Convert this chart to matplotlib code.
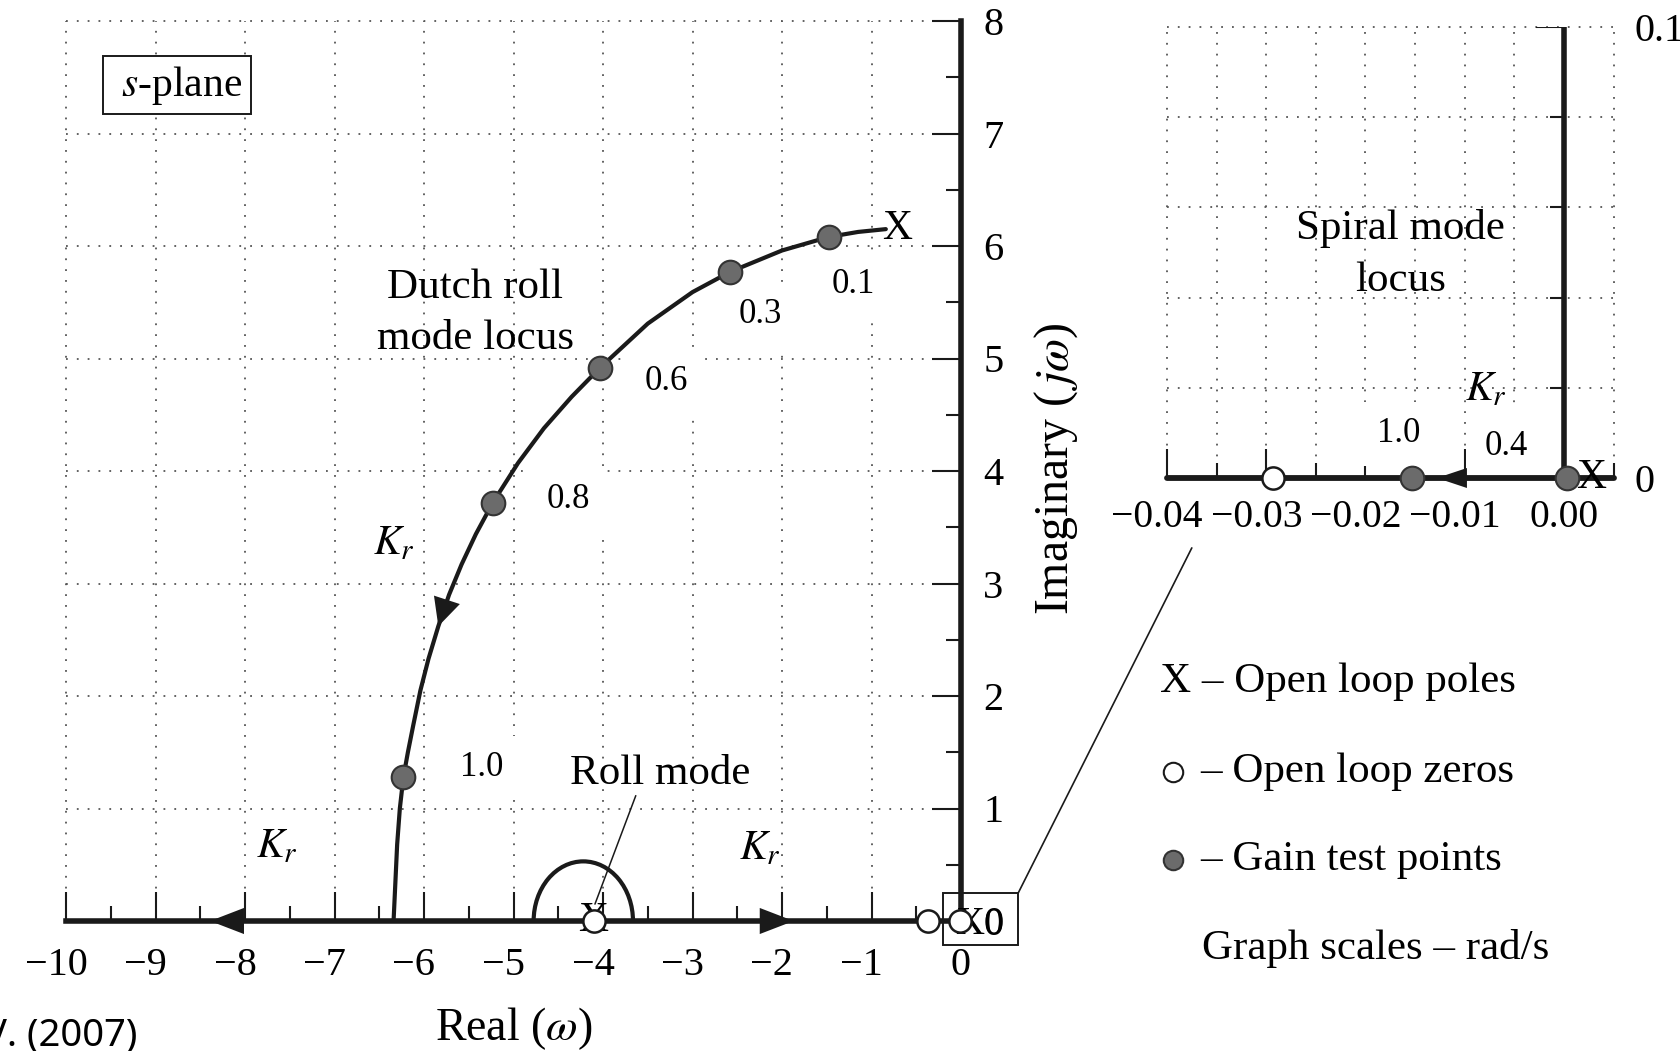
import matplotlib
matplotlib.use("Agg")
import matplotlib.pyplot as plt
from matplotlib.patches import Arc, Rectangle, ConnectionPatch
import numpy as np

plt.rcParams['font.family'] = ['Liberation Serif', 'DejaVu Serif']
plt.rcParams['mathtext.fontset'] = 'stix'

# ---- main s-plane, rad/s ----
x_ticks = [-10, -9, -8, -7, -6, -5, -4, -3, -2, -1, 0]
x_tick_labels = ['−10', '−9', '−8', '−7', '−6', '−5', '−4', '−3', '−2', '−1', '0']
x_minor = [-9.5, -8.5, -7.5, -6.5, -5.5, -4.5, -3.5, -2.5, -1.5, -0.5]
y_ticks = [0, 1, 2, 3, 4, 5, 6, 7, 8]
y_tick_labels = ['0', '1', '2', '3', '4', '5', '6', '7', '8']
y_minor = [0.5, 1.5, 2.5, 3.5, 4.5, 5.5, 6.5, 7.5]

# dutch roll branch, open loop pole -> real axis
dutch_re = [-0.84, -1.15, -1.48, -2.00, -2.58, -3.00, -3.50, -4.03, -4.35, -4.66,
            -4.95, -5.23, -5.42, -5.58, -5.72, -5.84, -5.95, -6.04, -6.12, -6.18,
            -6.23, -6.27, -6.30, -6.32, -6.34]
dutch_im = [6.15, 6.125, 6.08, 5.96, 5.77, 5.59, 5.31, 4.92, 4.66, 4.38,
            4.07, 3.72, 3.44, 3.17, 2.90, 2.62, 2.33, 2.05, 1.74, 1.50,
            1.28, 1.00, 0.68, 0.34, 0.00]

# gain test points on the dutch roll branch
gain_re = [-1.48, -2.58, -4.03, -5.23, -6.23]
gain_im = [6.08, 5.77, 4.92, 3.72, 1.28]
gain_values = ['0.1', '0.3', '0.6', '0.8', '1.0']

dutch_pole = (-0.71, 6.15)
roll_pole = (-4.11, 0.0)
zeros_re = [-4.10, -0.37, -0.01]
zeros_im = [0.0, 0.0, 0.0]
roll_loop_center = -4.22
roll_loop_width = 1.11
roll_loop_height = 1.06

# ---- spiral mode, zoomed near the origin ----
sp_x_ticks = [-0.04, -0.03, -0.02, -0.01, 0.0]
sp_x_labels = ['−0.04', '−0.03', '−0.02', '−0.01', '0.00']
sp_x_minor = [-0.035, -0.025, -0.015, -0.005, 0.005]
sp_y_ticks = [0.0, 0.02, 0.04, 0.06, 0.08, 0.1]
sp_y_labels = ['0', '', '', '', '', '0.1']
sp_zero = -0.0293
sp_gain_re = [-0.0153, 0.0003]
sp_gain_values = ['1.0', '0.4']
sp_pole = 0.0027

W, H = 1680, 1051
fig = plt.figure(figsize=(W / 100, H / 100), dpi=100)

INK = '#1a1a1a'
grid_kw = dict(color='#555555', linestyle=(0, (1, 5)), linewidth=1.3)
dot_kw = dict(ls='none', marker='o', ms=17, mfc='#6b6b6b', mec='#333333', mew=1.5)
zero_kw = dict(ls='none', marker='o', ms=16, mfc='white', mec=INK, mew=1.8)
lab_box = dict(boxstyle='square,pad=0.45', fc='white', ec='none')


def head(a, tip, tail, hl, hw):
    a.annotate('', xy=tip, xytext=tail, zorder=5,
               arrowprops=dict(arrowstyle=f'-|>,head_length={hl},head_width={hw}',
                               mutation_scale=20, lw=0, fc=INK, ec=INK,
                               shrinkA=0, shrinkB=0))


def pad_minus(labels):
    # keep the digits centred on the tick, the minus hangs to the left
    return [s + '\u2002' if s.startswith('−') else s for s in labels]


# ================= main axes =================
ax = fig.add_axes([66 / W, 1 - 921 / H, (961 - 66) / W, (921 - 21) / H])
ax.set_xlim(-10, 0)
ax.set_ylim(0, 8)
ax.set_axisbelow(True)
for s in ['left', 'top']:
    ax.spines[s].set_visible(False)
for s in ['bottom', 'right']:
    ax.spines[s].set_linewidth(4)
    ax.spines[s].set_color(INK)

ax.set_xticks(x_ticks)
ax.set_xticklabels(pad_minus(x_tick_labels))
ax.set_xticks(x_minor, minor=True)
ax.yaxis.tick_right()
ax.set_yticks(y_ticks)
ax.set_yticklabels(y_tick_labels)
ax.set_yticks(y_minor, minor=True)
ax.tick_params(which='both', direction='in', width=1.5, color=INK, labelsize=29)
ax.tick_params(which='major', length=21)
ax.tick_params(which='minor', length=11)
ax.tick_params(axis='x', pad=19)
ax.tick_params(axis='y', pad=16)
ax.grid(which='major', clip_on=False, **grid_kw)

ax.plot(dutch_re, dutch_im, color=INK, lw=3.0, solid_capstyle='round',
        solid_joinstyle='round', zorder=3)
ax.add_patch(Arc((roll_loop_center, 0), roll_loop_width, roll_loop_height,
                 theta1=0, theta2=180, lw=3.0, color=INK, zorder=3))

head(ax, (-5.84, 2.62), (-5.66, 3.06), 1.0, 0.49)
head(ax, (-8.39, 0), (-7.4, 0), 1.22, 0.47)
head(ax, (-1.87, 0), (-2.8, 0), 1.22, 0.47)

ax.text(dutch_pole[0], dutch_pole[1], 'X', fontsize=30, ha='center', va='center', zorder=5)
ax.text(roll_pole[0], roll_pole[1], 'X', fontsize=30, ha='center', va='center', zorder=5)
ax.text(-0.07, -0.03, 'X0', fontsize=29, ha='left', va='center', zorder=5, clip_on=False)

ax.plot(gain_re, gain_im, zorder=6, **dot_kw)
ax.plot(zeros_re, zeros_im, zorder=6, clip_on=False, **zero_kw)

label_xy = [(-1.20, 5.66), (-2.24, 5.39), (-3.29, 4.80), (-4.39, 3.75), (-5.35, 1.36)]
for g, (lx, ly) in zip(gain_values, label_xy):
    ax.text(lx, ly, g, fontsize=25, ha='center', va='center', bbox=lab_box, zorder=1.5)

ax.text(-8.76, 7.43, r' $s$-plane ', fontsize=30, ha='center', va='center',
        bbox=dict(boxstyle='square,pad=0.18', fc='white', ec=INK, lw=1.4))
ax.text(-5.43, 5.40, 'Dutch roll\nmode locus', fontsize=31, ha='center', va='center',
        linespacing=1.42)
for kx, ky in [(-6.34, 3.35), (-7.64, 0.66), (-2.25, 0.64)]:
    ax.text(kx, ky, r'$K_r$', fontsize=30, ha='center', va='center')
ax.annotate('Roll mode', xy=(-4.09, 0.15), xytext=(-3.36, 1.31), fontsize=31,
            ha='center', va='center',
            arrowprops=dict(arrowstyle='-', lw=1.1, color=INK, shrinkA=0, shrinkB=0,
                            relpos=(0.37, 0.0)))

ax.add_patch(Rectangle((-0.2, -0.21), 0.84, 0.46, fill=False, ec=INK, lw=1.4,
                       clip_on=False, zorder=4))

# ================= spiral mode inset =================
ins = fig.add_axes([1167 / W, 1 - 478 / H, (1613.6 - 1167) / W, (478 - 27) / H])
ins.set_xlim(-0.04, 0.005)
ins.set_ylim(0, 0.1)
ins.set_axisbelow(True)
for s in ins.spines.values():
    s.set_visible(False)
ins.set_xticks(sp_x_ticks)
ins.set_xticklabels(pad_minus(sp_x_labels))
ins.set_xticks(sp_x_minor, minor=True)
ins.tick_params(axis='x', which='both', direction='in', width=1.5, color=INK,
                labelsize=28.5, pad=15)
ins.tick_params(axis='x', which='major', length=21)
ins.tick_params(axis='x', which='minor', length=11)
ins.yaxis.tick_right()
ins.set_yticks(sp_y_ticks)
ins.set_yticklabels(sp_y_labels)
ins.tick_params(axis='y', length=0, labelsize=29, pad=15)
ins.grid(which='both', clip_on=False, **grid_kw)

ins.axhline(0, color=INK, lw=4.2, solid_capstyle='round', zorder=2.5, clip_on=False)
ins.axvline(0, color=INK, lw=4.0, zorder=2.5)
ins.plot([0, 0], [sp_y_ticks[0], sp_y_ticks[-1]], ls='none', marker=0, ms=20,
         mew=1.5, color=INK, zorder=2.4)
ins.plot([0] * 4, sp_y_ticks[1:-1], ls='none', marker=0, ms=10,
         mew=1.5, color=INK, zorder=2.4)

head(ins, (-0.0128, 0), (-0.005, 0), 1.08, 0.36)
ins.text(sp_pole, 0, 'X', fontsize=30, ha='center', va='center', zorder=5, clip_on=False)
ins.plot([sp_zero], [0], zorder=6, clip_on=False, **zero_kw)
ins.plot(sp_gain_re, [0, 0], zorder=6, clip_on=False, **dot_kw)

ins.text(-0.0167, 0.0098, sp_gain_values[0], fontsize=25, ha='center', va='center',
         bbox=lab_box, zorder=1.5)
ins.text(-0.0058, 0.0070, sp_gain_values[1], fontsize=25, ha='center', va='center',
         bbox=dict(boxstyle='square,pad=0.55', fc='white', ec='none'), zorder=1.5)
ins.text(-0.0079, 0.0195, r'$K_r$', fontsize=30, ha='center', va='center')
ins.text(-0.0165, 0.0496, 'Spiral mode\nlocus', fontsize=31, ha='center', va='center',
         linespacing=1.45)

fig.add_artist(ConnectionPatch(xyA=(0.64, 0.25), coordsA=ax.transData,
                               xyB=(-0.0375, -0.0155), coordsB=ins.transData,
                               color=INK, lw=1.2))

# ================= key and axis titles =================
key = fig.add_axes([0, 0, 1, 1], zorder=-1)
key.axis('off')
key.set_xlim(0, 1)
key.set_ylim(0, 1)
key.plot([1173 / W], [1 - 772 / H], **dict(zero_kw, ms=14, mew=1.5))
key.plot([1173 / W], [1 - 860 / H], **dict(dot_kw, ms=14))

fig.text(1160 / W, 1 - 682 / H, 'X – Open loop poles', fontsize=31, va='center')
fig.text(1200 / W, 1 - 772 / H, '– Open loop zeros', fontsize=31, va='center')
fig.text(1200 / W, 1 - 860 / H, '– Gain test points', fontsize=31, va='center')
fig.text(1202 / W, 1 - 949 / H, 'Graph scales – rad/s', fontsize=31, va='center')

fig.text(1056 / W, 1 - 469 / H, r'Imaginary ($\,j\omega$)', fontsize=34.5, rotation=90,
         ha='center', va='center')
fig.text(514 / W, 1 - 1029 / H, r'Real ($\omega$)', fontsize=33, ha='center', va='center')
fig.text(137 / W, 1 - 1036 / H, 'V. (2007)', family='Noto Sans', fontsize=27.5,
         ha='right', va='center')

fig.savefig('out.png', dpi=100)
